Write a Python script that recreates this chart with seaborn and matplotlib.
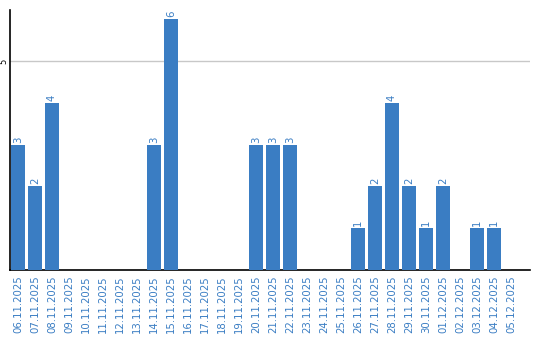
import matplotlib
matplotlib.use("Agg")
import matplotlib.pyplot as plt
import seaborn as sns
import pandas as pd

dates = ["06.11.2025", "07.11.2025", "08.11.2025", "09.11.2025", "10.11.2025",
         "11.11.2025", "12.11.2025", "13.11.2025", "14.11.2025", "15.11.2025",
         "16.11.2025", "17.11.2025", "18.11.2025", "19.11.2025", "20.11.2025",
         "21.11.2025", "22.11.2025", "23.11.2025", "24.11.2025", "25.11.2025",
         "26.11.2025", "27.11.2025", "28.11.2025", "29.11.2025", "30.11.2025",
         "01.12.2025", "02.12.2025", "03.12.2025", "04.12.2025", "05.12.2025"]
counts = [3, 2, 4, 0, 0, 0, 0, 0, 3, 6,
          0, 0, 0, 0, 3, 3, 3, 0, 0, 0,
          1, 2, 4, 2, 1, 2, 0, 1, 1, 0]

BAR = "#3a7dc3"
TXT = "#3a7dc3"

sns.set_style("white")
plt.rcParams['font.family'] = ['DejaVu Sans']

df = pd.DataFrame({"date": dates, "count": counts})

fig = plt.figure(figsize=(5.4, 3.4), dpi=100)
ax = fig.add_axes([10/540, 70/340, 520/540, 260/340])

sns.barplot(data=df, x="date", y="count", color=BAR, saturation=1,
            width=0.82, ax=ax, zorder=3, linewidth=0, edgecolor="none")

ax.set_xlim(-0.47, 30.12)
ax.set_ylim(0, 6.22)
ax.set_yticks([5])
ax.set_yticklabels(["5"], rotation=90, fontsize=6, va="center", color="black")
ax.yaxis.grid(True, color="#c8c8c8", linewidth=1, zorder=0)
ax.set_axisbelow(True)
ax.tick_params(axis="y", length=0, pad=1)
ax.tick_params(axis="x", length=0, pad=4, labelsize=7.3, labelcolor=TXT)
for lab in ax.get_xticklabels():
    lab.set_rotation(90)

for s in ["top", "right"]:
    ax.spines[s].set_visible(False)
for s in ["left", "bottom"]:
    ax.spines[s].set_color("black")
    ax.spines[s].set_linewidth(1.2)

ax.set_xlabel("")
ax.set_ylabel("")

for i, v in enumerate(counts):
    if v > 0:
        ax.text(i, v + 0.05, str(v), rotation=90, ha="center", va="bottom",
                fontsize=7.3, color=TXT, zorder=4)

fig.savefig("out.png", dpi=100)
